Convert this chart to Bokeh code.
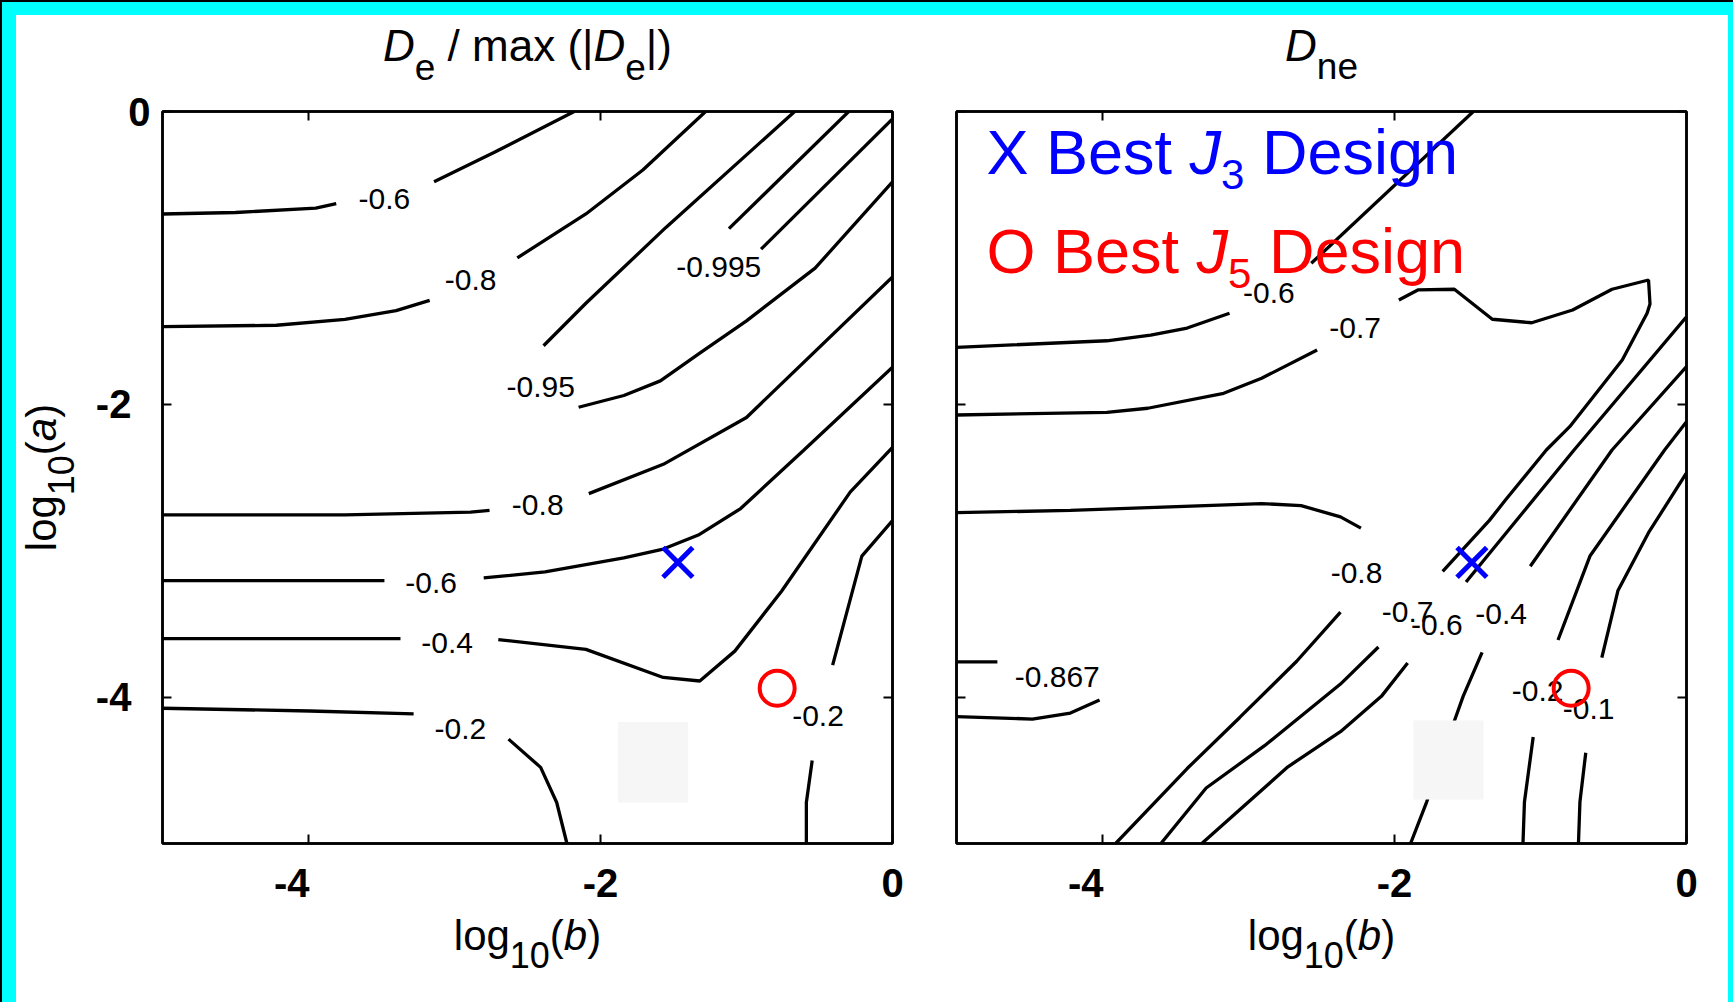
from math import pi
from bokeh.plotting import figure
from bokeh.models import (ColumnDataSource, FixedTicker, LinearAxis, Range1d,
                          Spacer, GlobalInlineStyleSheet)
from bokeh.layouts import row, column
from bokeh.core.properties import value
from bokeh.embed import file_html
from bokeh.resources import INLINE

FONT = "Liberation Sans"
NB = "\u00a0"

# ---------------- data (log10(b) on x, log10(a) on y) ----------------
TICKS = [-4, -2, 0]
X_TICK_LABELS = {-4: "-4" + NB * 3, -2: "-2", 0: "0"}
Y_TICK_LABELS = {-4: "-4" + NB + "\u2009", -2: "-2" + NB + "\u2009", 0: "0"}
BLANK_LABELS = {-4: "", -2: "", 0: ""}

BEST_J3 = (-1.47, -3.08)
BEST_J5 = (-0.79, -3.94)

# Left panel: De / max(|De|) contour lines (segments broken at labels)
DE_060_XS = [[-5.0, -4.50, -3.95, -3.81], [-3.14, -2.73, -2.18],
             [-5.0, -3.48], [-2.80, -2.38, -1.84, -1.57, -1.33, -1.04, -0.61, 0.0]]
DE_060_YS = [[-0.70, -0.69, -0.66, -0.63], [-0.48, -0.28, 0.0],
             [-3.205, -3.205], [-3.186, -3.145, -3.049, -2.989, -2.893, -2.712, -2.316, -1.747]]
DE_080_XS = [[-5.0, -4.22, -3.75, -3.40, -3.17], [-2.57, -2.10, -1.71, -1.28],
             [-5.0, -3.75, -2.89, -2.76], [-2.08, -1.57, -1.00, 0.0]]
DE_080_YS = [[-1.47, -1.46, -1.42, -1.36, -1.29], [-1.00, -0.70, -0.40, 0.0],
             [-2.755, -2.755, -2.736, -2.724], [-2.61, -2.41, -2.09, -1.13]]
DE_095_XS = [[-0.67, -1.55, -2.10, -2.39], [-2.15, -1.84, -1.59, -1.32, -1.00, -0.53, 0.0]]
DE_095_YS = [[0.0, -0.79, -1.31, -1.60], [-2.02, -1.94, -1.84, -1.65, -1.43, -1.07, -0.48]]
DE_0995_XS = [[-0.30, -1.12], [-0.90, 0.0]]
DE_0995_YS = [[0.0, -0.80], [-0.94, -0.05]]
DE_040_XS = [[-5.0, -3.37], [-2.70, -2.10, -1.57, -1.32, -1.08, -0.76, -0.29, 0.0]]
DE_040_YS = [[-3.60, -3.60], [-3.607, -3.674, -3.866, -3.89, -3.686, -3.277, -2.60, -2.295]]
DE_020_XS = [[-5.0, -3.99, -3.28], [-2.63, -2.41, -2.30, -2.23],
             [0.0, -0.21, -0.41], [-0.55, -0.59, -0.59]]
DE_020_YS = [[-4.076, -4.095, -4.114], [-4.287, -4.48, -4.72, -5.0],
             [-2.794, -3.037, -3.782], [-4.433, -4.72, -5.0]]

DE_LABEL_TEXT = ["-0.6", "-0.8", "-0.995", "-0.95", "-0.8", "-0.6", "-0.4", "-0.2", "-0.2"]
DE_LABEL_X = [-3.48, -2.89, -1.19, -2.41, -2.43, -3.16, -3.05, -2.96, -0.51]
DE_LABEL_Y = [-0.60, -1.15, -1.06, -1.88, -2.69, -3.22, -3.63, -4.22, -4.13]

# Right panel: Dne contour lines
DNE_060_XS = [[-5.0, -3.97, -3.67, -3.42, -3.13], [-2.57, -1.46],
              [-1.91, -2.09, -2.37, -2.73, -3.32], [-1.51, -0.77, 0.0]]
DNE_060_YS = [[-1.611, -1.566, -1.527, -1.479, -1.378], [-1.037, 0.0],
              [-3.767, -3.995, -4.236, -4.476, -5.0], [-3.214, -2.312, -1.402]]
DNE_070_XS = [[-5.0, -3.97, -3.69, -3.17, -2.91, -2.53],
              [-1.97, -1.84, -1.59, -1.33, -1.06, -0.78, -0.51, -0.26, -0.25, -0.27,
               -0.44, -0.80, -0.96, -1.24, -1.35, -1.67],
              [-2.11, -2.37, -2.89, -3.29, -3.60]]
DNE_070_YS = [[-2.073, -2.055, -2.027, -1.925, -1.822, -1.629],
              [-1.288, -1.219, -1.214, -1.419, -1.443, -1.356, -1.214, -1.151, -1.315, -1.378,
               -1.697, -2.153, -2.312, -2.654, -2.793, -3.141],
              [-3.658, -3.911, -4.332, -4.621, -5.0]]
DNE_080_XS = [[-5.0, -4.22, -2.91, -2.64, -2.37, -2.23], [-2.37, -2.67, -3.06, -3.42, -3.91]]
DNE_080_YS = [[-2.74, -2.725, -2.678, -2.692, -2.769, -2.846], [-3.419, -3.755, -4.139, -4.488, -5.0]]
DNE_0867_XS = [[-5.0, -4.72], [-4.02, -4.22, -4.48, -5.0]]
DNE_0867_YS = [[-3.76, -3.76], [-4.02, -4.109, -4.15, -4.133]]
DNE_040_XS = [[-1.07, -0.51, 0.0], [-1.40, -1.53, -1.59, -1.78, -1.89]]
DNE_040_YS = [[-3.106, -2.312, -1.743], [-3.695, -3.995, -4.163, -4.717, -5.0]]
DNE_020_XS = [[-0.88, -0.66, -0.15, 0.0], [-1.05, -1.11, -1.12]]
DNE_020_YS = [[-3.61, -3.034, -2.312, -2.119], [-4.272, -4.717, -5.0]]
DNE_010_XS = [[0.0, -0.26, -0.47, -0.58], [-0.69, -0.73, -0.74]]
DNE_010_YS = [[-2.469, -2.877, -3.274, -3.731], [-4.38, -4.717, -5.0]]

DNE_LABEL_TEXT = ["-0.6", "-0.7", "-0.8", "-0.7", "-0.6", "-0.4", "-0.2", "-0.1", "-0.867"]
DNE_LABEL_X = [-2.86, -2.27, -2.26, -1.91, -1.71, -1.27, -1.02, -0.67, -4.31]
DNE_LABEL_Y = [-1.24, -1.48, -3.15, -3.42, -3.51, -3.43, -3.96, -4.08, -3.86]

# faint grey patches present in the picture (left, right, bottom, top)
DE_PATCH = [-1.88, -1.40, -4.72, -4.17]
DNE_PATCH = [-1.87, -1.39, -4.70, -4.16]

# ---------------- helpers ----------------
AW = {' ': 278, '(': 333, ')': 333, '|': 260, '/': 278, '-': 333, '.': 278,
      'a': 556, 'b': 556, 'e': 556, 'g': 556, 'i': 222, 'l': 222, 'm': 833, 'n': 556,
      'o': 556, 's': 500, 't': 278, 'x': 500, 'B': 667, 'D': 722, 'J': 500, 'O': 778, 'X': 667}
for _d in "0123456789":
    AW[_d] = 556


def tw(s, px):
    return sum(AW.get(c, 556) for c in s) * px / 1000.0


def rich(f, x, y, pieces, color="black", center=True, angle=0.0):
    """pieces: (text, font px, style, drop px) drawn side by side as text glyphs"""
    total = sum(tw(t, sz) for t, sz, st, dr in pieces)
    off = -total / 2.0 if center else 0.0
    for t, sz, st, dr in pieces:
        lead = tw(t[:len(t) - len(t.lstrip(' '))], sz)
        o = off + lead
        if angle == 0.0:
            kw = dict(x_offset=o, y_offset=dr)
        else:
            kw = dict(x_offset=dr, y_offset=-o, angle=angle)
        f.text(x=[x], y=[y], text=[t.strip(' ')], text_font=value(FONT),
               text_font_size=value(f"{sz}px"), text_font_style=value(st),
               text_color=color, text_align="left", text_baseline="middle", **kw)
        off += tw(t, sz)


def style_axis(ax, labels, standoff=0):
    ax.ticker = FixedTicker(ticks=TICKS)
    ax.major_tick_in = 9
    ax.major_tick_out = 0
    ax.minor_tick_line_color = None
    ax.major_tick_line_width = 2
    ax.major_tick_line_color = "black"
    ax.axis_line_width = 2.5
    ax.axis_line_color = "black"
    if labels:
        ax.major_label_overrides = labels
        ax.major_label_text_font = FONT
        ax.major_label_text_font_size = "40px"
        ax.major_label_text_font_style = "bold"
        ax.major_label_text_color = "black"
        ax.major_label_standoff = standoff
    else:
        ax.major_label_overrides = BLANK_LABELS
        ax.major_label_text_font_size = "0px"
        ax.major_label_standoff = 0


def text_fig(w, h, xr, bl=0, br=0):
    f = figure(width=w, height=h, x_range=xr, y_range=Range1d(h, 0),
               x_axis_type=None, y_axis_type=None, output_backend="svg",
               toolbar_location=None, min_border_left=bl, min_border_right=br,
               min_border_top=0, min_border_bottom=0)
    f.grid.visible = False
    f.outline_line_color = None
    f.background_fill_color = "white"
    f.border_fill_color = "white"
    return f


TH = 72   # title strip height
PH = 822  # panel figure height: 24 top + 732 frame + 66 bottom
XH = 1002 - 15 - TH - PH  # x-label strip height


def panel(width, bl, br, xs, ys, lab_x, lab_y, lab_t, patch, ylabels):
    p = figure(width=width, height=PH, x_range=Range1d(-5, 0), y_range=Range1d(-5, 0),
               output_backend="svg", toolbar_location=None,
               min_border_left=bl, min_border_right=br, min_border_top=24, min_border_bottom=66)
    p.grid.visible = False
    p.background_fill_color = "white"
    p.border_fill_color = "white"
    p.outline_line_color = "black"
    p.outline_line_width = 2.5
    p.add_layout(LinearAxis(), "above")
    p.add_layout(LinearAxis(), "right")
    style_axis(p.below[0], X_TICK_LABELS, 17)
    style_axis(p.left[0], Y_TICK_LABELS if ylabels else None, 12)
    style_axis(p.above[0], None)
    style_axis(p.right[0], None)

    p.multi_line(xs=xs, ys=ys, line_color="black", line_width=3.3)
    p.quad(left=[patch[0]], right=[patch[1]], bottom=[patch[2]], top=[patch[3]],
           fill_color="#f6f6f6", line_color=None)
    src = ColumnDataSource(dict(x=lab_x, y=lab_y, text=lab_t))
    p.text(x="x", y="y", text="text", source=src, text_font=value(FONT),
           text_font_size=value("30px"), text_align="center", text_baseline="middle",
           text_color="black")
    p.scatter(x=[BEST_J3[0]], y=[BEST_J3[1]], marker="x", size=42,
              line_color="#0000FF", line_width=5)
    p.scatter(x=[BEST_J5[0]], y=[BEST_J5[1]], marker="circle", size=35,
              line_color="#FF0000", fill_color=None, line_width=4)
    return p


XLAB = [("log", 42, "normal", 0), ("10", 36, "normal", 19),
        ("(", 42, "normal", 0), ("b", 42, "italic", 0), (")", 42, "normal", 0)]
YLAB = [("log", 42, "normal", 0), ("10", 36, "normal", 19),
        ("(", 42, "normal", 0), ("a", 42, "italic", 0), (")", 42, "normal", 0)]

# ---- left column ----
p1 = panel(838, 76, 32,
           DE_060_XS + DE_080_XS + DE_095_XS + DE_0995_XS + DE_040_XS + DE_020_XS,
           DE_060_YS + DE_080_YS + DE_095_YS + DE_0995_YS + DE_040_YS + DE_020_YS,
           DE_LABEL_X, DE_LABEL_Y, DE_LABEL_TEXT, DE_PATCH, True)
t1 = text_fig(838, TH, p1.x_range, 76, 32)
rich(t1, -2.5, 30, [("D", 44, "italic", 0), ("e", 37, "normal", 21),
                    (" / max (|", 44, "normal", 0), ("D", 44, "italic", 0),
                    ("e", 37, "normal", 21), ("|)", 44, "normal", 0)])
x1 = text_fig(838, XH, p1.x_range, 76, 32)
rich(x1, -2.5, 26, XLAB)

ylab = text_fig(70, 987, Range1d(0, 70))
rich(ylab, 25, 462, YLAB, angle=pi / 2)

# ---- right column ----
p2 = panel(804, 32, 42,
           DNE_060_XS + DNE_070_XS + DNE_080_XS + DNE_0867_XS + DNE_040_XS + DNE_020_XS + DNE_010_XS,
           DNE_060_YS + DNE_070_YS + DNE_080_YS + DNE_0867_YS + DNE_040_YS + DNE_020_YS + DNE_010_YS,
           DNE_LABEL_X, DNE_LABEL_Y, DNE_LABEL_TEXT, DNE_PATCH, False)
rich(p2, -4.795, -0.280, [("X Best ", 63, "normal", 0), ("J", 63, "italic", 0),
                          ("3", 42, "normal", 22), (" Design", 63, "normal", 0)],
     color="#0000FF", center=False)
rich(p2, -4.795, -0.956, [("O Best ", 63, "normal", 0), ("J", 63, "italic", 0),
                          ("5", 42, "normal", 22), (" Design", 63, "normal", 0)],
     color="#FF0000", center=False)
t2 = text_fig(804, TH, p2.x_range, 32, 42)
rich(t2, -2.5, 30, [("D", 44, "italic", 0), ("ne", 37, "normal", 21)])
x2 = text_fig(804, XH, p2.x_range, 32, 42)
rich(x2, -2.5, 26, XLAB)

page_css = GlobalInlineStyleSheet(css="html, body { margin: 0 !important; padding: 0 !important; "
                                      "background-color: #00FFFF !important; } "
                                      "body { box-shadow: inset 2px 2px 0 #000000; }")
white_block = row(ylab, column(t1, p1, x1), column(t2, p2, x2),
                  styles={"background-color": "white"})
layout = column(Spacer(width=1728, height=15),
                row(Spacer(width=16, height=987), white_block))
layout.stylesheets = [page_css]

open("out.html", "w").write(file_html(layout, INLINE))
